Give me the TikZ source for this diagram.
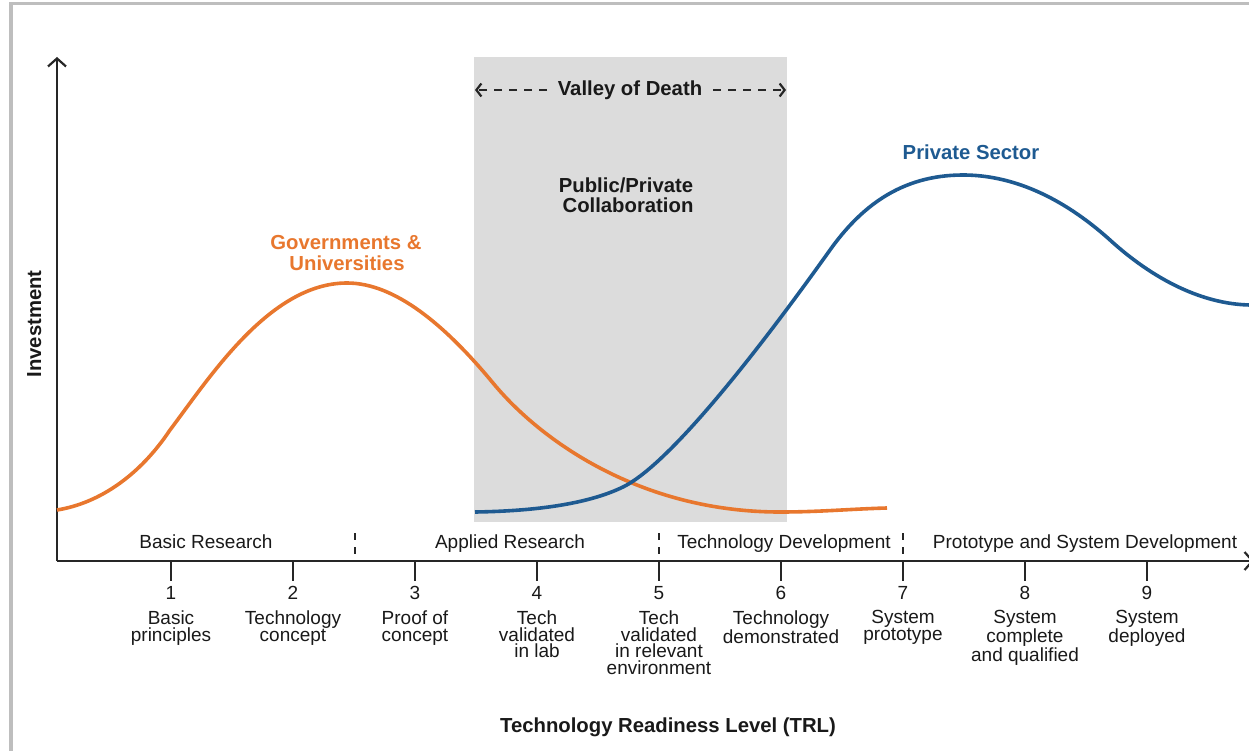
\documentclass[tikz,border=0pt]{standalone}
\usepackage{fontspec}
\setmainfont{Liberation Sans}
\usetikzlibrary{arrows.meta}
\definecolor{orng}{RGB}{232,119,46}
\definecolor{blu}{RGB}{30,90,145}
\definecolor{vgrey}{RGB}{220,220,220}
\definecolor{frame}{RGB}{190,190,190}
\tikzset{
  axisline/.style={line width=2.2pt, black!85},
  tickline/.style={line width=2pt, black!85},
  sepline/.style={line width=2pt, black!85, dash pattern=on 7pt off 7pt},
  curveline/.style={line width=3.6pt},
  chev/.style={-{Straight Barb[length=5pt,width=13pt,line width=2.2pt]}},
  reglabel/.style={font=\fontsize{19}{16.7}\selectfont, inner sep=0pt, text=black!90},
  ticklabel/.style={reglabel, align=center, anchor=north},
  boldlabel/.style={font=\fontsize{20.3}{20}\selectfont\bfseries, inner sep=0pt, text=black!90, align=center},
}
\begin{document}
\begin{tikzpicture}[x=1pt,y=-1pt]
\useasboundingbox (0,0) rectangle (1249,751);
% frame
\draw[frame, line width=3.5pt] (11,751) -- (11,3.5) -- (1249,3.5);
% valley rectangle
\fill[vgrey] (474,57) rectangle (787,522);
% axes
\coordinate (O) at (57,561);
\coordinate (ytop) at (57,57);
\coordinate (xend) at (1254,561);
\draw[axisline, -{Straight Barb[length=8pt,width=18pt,line width=2.2pt]}] (O) -- (ytop);
\draw[axisline, -{Straight Barb[length=8pt,width=18pt,line width=2.2pt]}] (O) -- (xend);
% ticks
\foreach \k/\n in {1/1,2/2,3/3,4/4,5/5,6/6,7/7,8/8,9/9}{
  \pgfmathsetmacro{\xx}{171+122*(\k-1)}
  \coordinate (t\k) at (\xx,561);
  \coordinate (b\k) at (\xx,581);
  \draw[tickline] (t\k) -- (b\k);
  \node[reglabel, anchor=base] (n\k) at (\xx,599) {\n};
}
% separators
\coordinate (s1a) at (355,533); \coordinate (s1b) at (355,561);
\coordinate (s2a) at (659,533); \coordinate (s2b) at (659,561);
\coordinate (s3a) at (903,533); \coordinate (s3b) at (903,561);
\draw[sepline] (s1a) -- (s1b);
\draw[sepline] (s2a) -- (s2b);
\draw[sepline] (s3a) -- (s3b);
% stage labels
\node[reglabel, anchor=base] (st1) at (206,548) {Basic Research};
\node[reglabel, anchor=base] (st2) at (510,548) {Applied Research};
\node[reglabel, anchor=base] (st3) at (784,548) {Technology Development};
\node[reglabel, anchor=base] (st4) at (1085,548) {Prototype and System Development};
% tick labels
\node[ticklabel] (l1) at (171,610.5) {Basic\\principles};
\node[ticklabel] (l2) at (293,610.5) {Technology\\concept};
\node[ticklabel] (l3) at (415,610.5) {Proof of\\concept};
\node[ticklabel] (l4) at (537,610.5) {Tech\\validated\\in lab};
\node[ticklabel] (l5) at (659,610.5) {Tech\\validated\\in relevant\\environment};
\node[ticklabel] (l6) at (781,610.5) {Technology\\demonstrated};
\node[ticklabel] (l7) at (903,610.5) {System\\prototype};
\node[ticklabel] (l8) at (1025,610.5) {System\\complete\\and qualified};
\node[ticklabel] (l9) at (1147,610.5) {System\\deployed};
% curves
\draw[orng, curveline] (57,510) .. controls (100,503) and (140,475) .. (170,430)
  .. controls (210,377) and (270,283) .. (347,283)
  .. controls (395,283) and (445,325) .. (493,383)
  .. controls (540,440) and (640,512) .. (780,512)
  .. controls (820,512) and (850,509) .. (887,508);
\draw[blu, curveline] (475,512) .. controls (540,511) and (590,503) .. (623,487)
  .. controls (680,459) and (795,299) .. (830,250)
  .. controls (860,208) and (900,175) .. (963,175)
  .. controls (1010,175) and (1060,195) .. (1110,240)
  .. controls (1160,285.5) and (1210,305) .. (1252,305);
% labels
\node[boldlabel, text=orng, anchor=base] (gov) at (346,250) {Governments \&};
\node[boldlabel, text=orng, anchor=base] (uni) at (347,270) {Universities};
\node[boldlabel, text=blu, anchor=base] (priv) at (971,160) {Private Sector};
\node[boldlabel, anchor=base] (pub) at (626,193) {Public/Private};
\node[boldlabel, anchor=base] (coll) at (628,213) {Collaboration};
\node[boldlabel, anchor=base] (valley) at (630,96) {Valley of Death};
\coordinate (vl) at (475,90);
\coordinate (vr) at (786,90);
\coordinate (vla) at (547,90);
\coordinate (vra) at (713,90);
\draw[line width=2pt, black!85, dash pattern=on 8pt off 7pt, chev] (vla) -- (vl);
\draw[line width=2pt, black!85, dash pattern=on 8pt off 7pt, chev] (vra) -- (vr);
\node[boldlabel, anchor=base] (ttl) at (668,732) {Technology Readiness Level (TRL)};
\node[boldlabel, anchor=base, rotate=90] (inv) at (41,324) {Investment};
\end{tikzpicture}
\end{document}
